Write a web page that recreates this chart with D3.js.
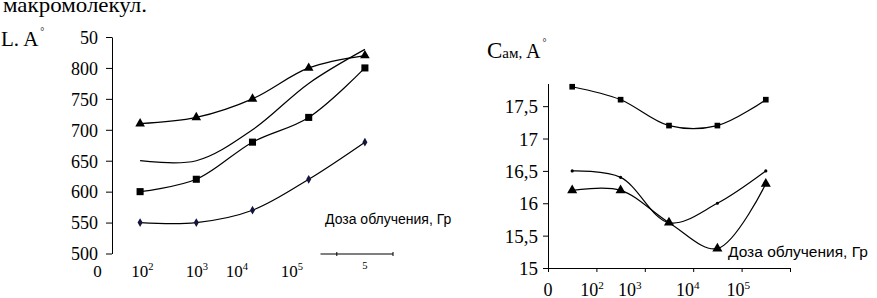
<!DOCTYPE html>
<html lang="ru">
<head>
<meta charset="UTF-8">
<title>L и Cам от дозы облучения</title>
<script src="https://d3js.org/d3.v7.min.js"></script>
<style>
  body { margin: 0; background: #fff; }
  svg { display: block; background: #fff; }
  .curve { fill: none; stroke: #000; stroke-width: 1.2px; }
</style>
</head>
<body>
<svg id="chart" width="877" height="298"></svg>
<script>
// five irradiation doses, same for both panels (index on the x axis)
const doses = [0, 1, 2, 3, 4];

// left panel: L, A
const leftTriangles = [710, 720, 750, 800, 820];
const leftSquares   = [600, 620, 680, 720, 800];
const leftDiamonds  = [550, 550, 570, 620, 680];
const leftPlain     = [650, 650, 700, 775, 830];

const leftYTicks  = [500, 550, 600, 650, 700, 750, 800, 850];
const leftYLabels = ["500", "550", "600", "650", "700", "750", "800", "50"];

// x labels of the left panel (base, exponent, place in dose units)
const leftXBase = ["0", "10", "10", "10", "10", ""];
const leftXExp  = ["", "2", "3", "4", "5", "5"];
const leftXAt   = [-0.76, 0.04, 1.01, 1.72, 2.7, 4.0];

// right panel: Cам, A
const rightSquares   = [17.8, 17.6, 17.2, 17.2, 17.6];
const rightDots      = [16.5, 16.4, 15.7, 16.0, 16.5];
const rightTriangles = [16.2, 16.2, 15.7, 15.3, 16.3];

const rightYTicks  = [15, 15.5, 16, 16.5, 17, 17.5];
const rightYLabels = ["15", "15,5", "16", "16,5", "17", "17,5"];

const rightXBase = ["0", "10", "10", "10", "10"];
const rightXExp  = ["", "2", "3", "4", "5"];
const rightXAt   = [-0.5, 0.41, 1.19, 2.39, 3.43];

const xLabel = "Доза облучения, Гр";

const SERIF = '"Liberation Serif", "Times New Roman", serif';
const SANS = '"Liberation Sans", Arial, sans-serif';

const svg = d3.select("#chart");

// caption line cut off at the top of the page
svg.append("text").style("font-family", SERIF)
    .attr("x", 3).attr("y", 12)
    .attr("font-size", 22)
    .attr("textLength", 144).attr("lengthAdjust", "spacingAndGlyphs")
    .text("макромолекул.");

// ---------- left panel ----------
const xL = d3.scaleLinear().domain([-0.5, 4.5]).range([112, 393]);
const yL = d3.scaleLinear().domain([500, 850]).range([253.5, 37]);

const gL = svg.append("g");

const axL = gL.append("g")
    .attr("transform", `translate(${xL(-0.5)},0)`)
    .call(d3.axisLeft(yL).tickValues(leftYTicks)
        .tickFormat((d, i) => leftYLabels[i])
        .tickSize(6).tickSizeOuter(0).tickPadding(8));
axL.select(".domain").attr("stroke", "#000");
axL.selectAll("text").style("font-family", SERIF).attr("fill", "#000")
    .attr("font-size", 18).attr("dy", "0.35em");

// only a short piece of the horizontal axis is visible
const segStart = 3.21;
gL.append("line")
    .attr("x1", xL(segStart)).attr("x2", xL(4.5))
    .attr("y1", 254).attr("y2", 254)
    .attr("stroke", "#000").attr("stroke-width", 1);
gL.selectAll(".segtick").data([3.5, 4.5]).enter().append("line")
    .attr("x1", d => xL(d)).attr("x2", d => xL(d))
    .attr("y1", 252).attr("y2", 256)
    .attr("stroke", "#000");

function drawXLabels(g, sc, base, exp, at, y, size) {
    base.forEach((b, i) => {
        const t = g.append("text").style("font-family", SERIF).attr("fill", "#000")
            .attr("x", sc(at[i])).attr("y", y)
            .attr("text-anchor", "middle").attr("font-size", size);
        if (b) {
            t.append("tspan").text(b);
            if (exp[i]) t.append("tspan").attr("dy", -7).attr("font-size", size * 0.62).text(exp[i]);
        } else {
            t.attr("y", y - 8).attr("font-size", size * 0.62).text(exp[i]);
        }
    });
}
drawXLabels(gL, xL, leftXBase, leftXExp, leftXAt, 277, 17);

const lineGen = (sx, sy) => d3.line()
    .x((d, i) => sx(doses[i])).y(d => sy(d))
    .curve(d3.curveCatmullRom.alpha(0.5));

function series(g, sx, sy, vals, symbol, size, color, lineColor) {
    g.append("path").datum(vals).attr("class", "curve")
        .attr("stroke", lineColor || "#000")
        .attr("d", lineGen(sx, sy));
    if (!symbol) return;
    g.selectAll(null).data(vals).enter().append("path")
        .attr("transform", (d, i) => `translate(${sx(doses[i])},${sy(d)})`)
        .attr("d", d3.symbol().type(symbol).size(size))
        .attr("fill", color);
}

series(gL, xL, yL, leftPlain, null);
series(gL, xL, yL, leftDiamonds, d3.symbolDiamond, 22, "#14143c");
series(gL, xL, yL, leftSquares, d3.symbolSquare, 50, "#000");
series(gL, xL, yL, leftTriangles, d3.symbolTriangle, 40, "#000");

gL.append("text").style("font-family", SANS).attr("fill", "#000")
    .attr("x", 325).attr("y", 224).attr("font-size", 14)
    .text(xLabel);

// axis title "L, A°"
const tL = svg.append("text").style("font-family", SERIF).attr("fill", "#000")
    .attr("x", 1).attr("y", 46).attr("font-size", 21);
tL.append("tspan").text("L. A");
tL.append("tspan").attr("dx", 2).attr("dy", -11).attr("font-size", 10).text("°");

// ---------- right panel ----------
const xR = d3.scaleLinear().domain([-0.5, 4.5]).range([548, 790]);
const yR = d3.scaleLinear().domain([15, 17.85]).range([268, 83.5]);

const gR = svg.append("g");

const axRy = gR.append("g")
    .attr("transform", `translate(${xR(-0.5)},0)`)
    .call(d3.axisLeft(yR).tickValues(rightYTicks)
        .tickFormat((d, i) => rightYLabels[i])
        .tickSize(5).tickSizeOuter(0).tickPadding(5));
axRy.select(".domain").attr("stroke", "#000");
axRy.selectAll("text").style("font-family", SERIF).attr("fill", "#000")
    .attr("font-size", 19).attr("dy", "0.35em");

const axRx = gR.append("g")
    .attr("transform", `translate(0,${yR(15)})`)
    .call(d3.axisBottom(xR).tickValues(d3.range(-0.5, 4.6, 1))
        .tickFormat("").tickSize(4).tickSizeOuter(0));
axRx.select(".domain").attr("stroke", "#000");

drawXLabels(gR, xR, rightXBase, rightXExp, rightXAt, 296, 18);

series(gR, xR, yR, rightSquares, d3.symbolSquare, 32, "#000", "#234d23");
series(gR, xR, yR, rightDots, d3.symbolCircle, 8, "#000");
series(gR, xR, yR, rightTriangles, d3.symbolTriangle, 44, "#000");

gR.append("text").style("font-family", SANS).attr("fill", "#000")
    .attr("x", 728).attr("y", 257).attr("font-size", 15.5)
    .text(xLabel);

// axis title "Cам, A°"
const tR = svg.append("text").style("font-family", SERIF).attr("fill", "#000")
    .attr("x", 487).attr("y", 58);
tR.append("tspan").attr("font-size", 23).text("C");
tR.append("tspan").attr("font-size", 15).text("ам, ");
tR.append("tspan").attr("font-size", 20).text("A");
tR.append("tspan").attr("dx", 2).attr("dy", -12).attr("font-size", 10).text("°");
</script>
</body>
</html>
